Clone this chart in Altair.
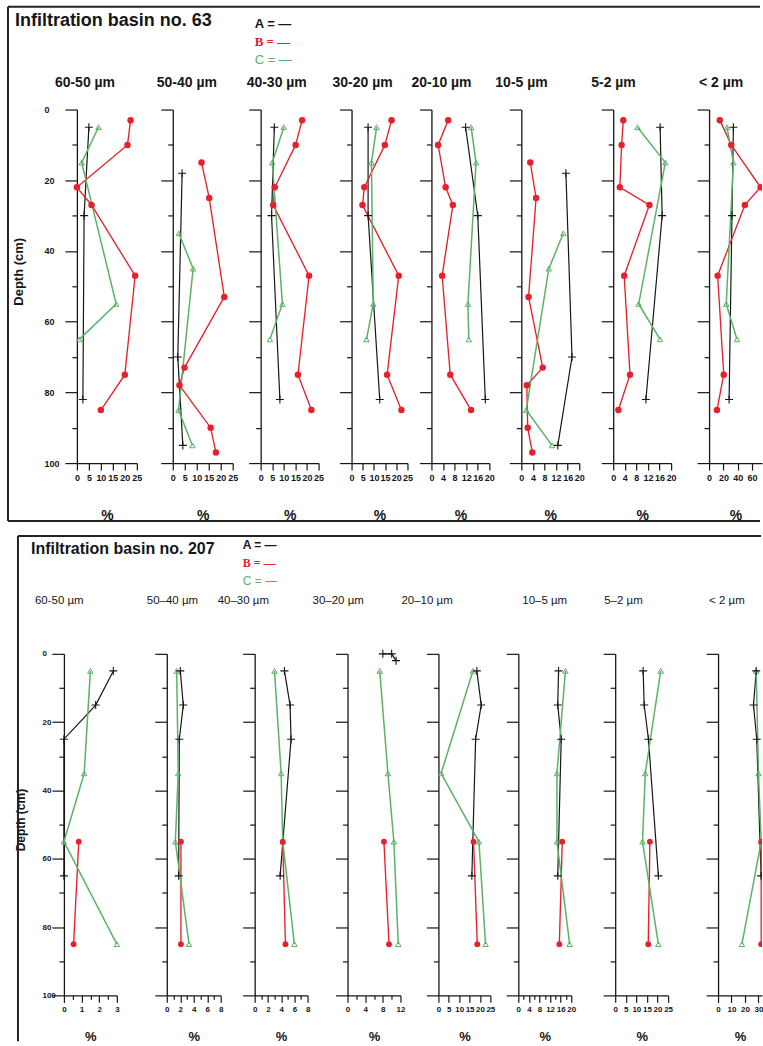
import altair as alt
import pandas as pd

BLACK = "#161616"
RED = "#e8202a"
GREEN = "#5cb266"
FONT = "Liberation Sans"
SERIF = "Liberation Serif"

# ---------------- Infiltration basin no. 63 ----------------
FRAC_63 = ["60-50 µm", "50-40 µm", "40-30 µm", "30-20 µm",
           "20-10 µm", "10-5 µm", "5-2 µm", "< 2 µm"]
# depths (cm) of the samples; panels "50-40" and "10-5" use the second set
D63_A = [5, 30, 82]
D63_A_ALT = [18, 70, 95]
D63_B = [3, 10, 22, 27, 47, 75, 85]
D63_B_ALT = [15, 25, 53, 73, 78, 90, 97]
D63_C = [5, 15, 55, 65]
D63_C_ALT = [35, 45, 85, 95]
ALT_63 = ["50-40 µm", "10-5 µm"]
# percentages, one list per panel
A63 = [[5.0, 3.0, 2.5], [3.9, 2.1, 4.2], [5.9, 4.7, 8.3], [7.4, 7.4, 12.6],
       [11.8, 16.0, 18.6], [15.4, 17.5, 12.6], [16.2, 16.9, 11.3], [34, 32, 28]]
B63 = [[22.4, 21.1, 0.0, 6.1, 24.3, 20.0, 10.0],
       [12.0, 15.2, 21.5, 4.9, 2.8, 15.8, 18.0],
       [17.9, 15.1, 6.1, 5.4, 20.9, 16.1, 21.9],
       [17.9, 14.9, 5.7, 4.9, 21.1, 15.9, 22.3],
       [5.8, 2.3, 4.9, 7.4, 3.7, 6.5, 13.7],
       [3.1, 5.1, 2.5, 7.4, 1.9, 2.2, 3.8],
       [3.5, 2.9, 2.3, 12.5, 3.8, 5.8, 1.8],
       [15, 31, 72, 50, 12, 20.5, 11]]
C63 = [[9.0, 2.0, 16.4, 1.0], [2.5, 8.5, 2.4, 8.2], [10.0, 5.0, 9.4, 4.0],
       [11.2, 8.9, 9.7, 6.7], [13.7, 15.4, 12.6, 12.9], [14.5, 9.5, 1.7, 10.6],
       [8.4, 18.0, 8.8, 16.2], [25, 34, 24, 39]]
XMAX_63 = [25, 25, 25, 25, 20, 20, 20, 74]
TICKS_63 = [[0, 5, 10, 15, 20, 25]] * 4 + [[0, 4, 8, 12, 16, 20]] * 3 + [[0, 20, 40, 60]]
LABELS_63 = TICKS_63

# ---------------- Infiltration basin no. 207 ----------------
FRAC_207 = ["60-50 µm", "50–40 µm", "40–30 µm", "30–20 µm",
            "20–10 µm", "10–5 µm", "5–2 µm", "< 2 µm"]
D207_A = [5, 15, 25, 65]
D207_A_ALT = [0, 0, 2]          # "30–20 µm" panel
D207_B = [55, 85]
D207_C = [5, 35, 55, 85]
A207 = [[2.8, 1.8, 0.0, 0.0], [2.0, 2.45, 1.86, 1.76], [4.5, 5.35, 5.5, 3.85],
        [8.0, 10.0, 11.0], [18.5, 20.6, 17.9, 16.1], [15.2, 14.9, 16.2, 14.9],
        [13.2, 13.7, 15.7, 20.4], [28.3, 26.3, 28.7, 31.9]]
B207 = [[0.84, 0.55], [2.1, 2.1], [4.25, 4.65], [8.25, 9.4], [16.9, 18.7],
        [16.6, 15.5], [16.4, 15.6], [32.0, 32.0]]
C207 = [[1.5, 1.15, 0.0, 3.0], [1.47, 1.7, 1.27, 3.3], [3.0, 4.0, 4.25, 6.0],
        [7.3, 9.15, 10.5, 11.5], [16.6, 1.3, 19.5, 22.7], [17.8, 14.6, 14.6, 19.4],
        [21.5, 14.2, 12.9, 20.4], [28.3, 30.0, 32.0, 17.7]]
XMAX_207 = [3, 8, 8, 12, 25, 20, 25, 32.6]
TICKS_207 = [[0, 0.5, 1, 1.5, 2, 2.5, 3], list(range(0, 9)), list(range(0, 9)),
             list(range(0, 13, 2)), [0, 5, 10, 15, 20, 25], list(range(0, 21, 2)),
             [0, 5, 10, 15, 20, 25], [0, 10, 20, 30]]
LABELS_207 = [[0, 1, 2, 3], [0, 2, 4, 6, 8], [0, 2, 4, 6, 8], [0, 4, 8, 12],
              [0, 5, 10, 15, 20, 25], [0, 4, 8, 12, 16, 20], [0, 5, 10, 15, 20, 25],
              [0, 10, 20, 30]]

# ---------------- layout (pixels) ----------------
XLEN_63 = [60, 60, 58, 56, 58, 58, 58, 53]
W_63 = [96, 88, 91, 80, 90, 92, 96, 53]
TDX_63 = [-22, -16, -14, -19, -20, -26, -22, -10]
XLEN_207 = [53, 54, 53, 53, 52, 53, 53, 44]
W_207 = [103, 88, 93, 91, 80, 97, 103, 44]
TDX_207 = [-29, -20, -37, -35, -37, 4, -11, -9]

CROSS = "M-1,0H1M0,-1V1"


def panel(frac, series, xmax, xlen, ticks, labels, width, height, first, top, clip, tdx):
    rows = []
    for name, (depths, vals) in series.items():
        for i, (d, v) in enumerate(zip(depths, vals)):
            rows.append({"series": name, "depth": d, "value": v, "idx": i})
    df = pd.DataFrame(rows)
    lab_expr = "indexof(%s, datum.value) >= 0 ? datum.label : ''" % str(labels)
    xaxis = alt.Axis(
        values=ticks, labelExpr=lab_expr, title="%", format="~f",
        tickSize={"condition": {"test": "indexof(%s, datum.value) >= 0" % str(labels),
                                "value": 7}, "value": 4},
        labelFontSize=9 if top else 8, labelPadding=3,
        titleX=xlen / 2, titleY=56 if top else 45, titleBaseline="alphabetic",
        titleFontSize=14 if top else 13, titleFontWeight="bold",
    )
    yaxis = alt.Axis(
        values=list(range(0, 101, 10)),
        tickSize={"condition": {"test": "datum.value % 20 === 0", "value": 12}, "value": 5},
        labels=first,
        labelExpr="datum.value % 20 === 0 ? datum.label : ''",
        labelAlign="left", labelPadding=21 if top else 10,
        labelFontSize=9 if top else 8,
        title="Depth (cm)" if first else None,
        titleX=-58 if top else -43, titleY=162 if top else 166,
        titleAngle=270, titleBaseline="middle", titleAlign="center",
        titleFontSize=13 if top else 12, titleFontWeight="bold",
    )
    base = alt.Chart(df).encode(
        x=alt.X("value:Q", scale=alt.Scale(domain=[0, xmax], range=[0, xlen], nice=False, zero=False), axis=xaxis),
        y=alt.Y("depth:Q", scale=alt.Scale(domain=[0, 100], reverse=True, nice=False, zero=False), axis=yaxis),
    )
    lines = base.mark_line(clip=clip).encode(
        color=alt.Color("series:N", scale=alt.Scale(domain=["A", "B", "C"], range=[BLACK, RED, GREEN]), legend=None),
        strokeWidth=alt.StrokeWidth("series:N", scale=alt.Scale(domain=["A", "B", "C"], range=[1.2, 1.5, 1.0]), legend=None),
        order="idx:Q",
    )
    pa = base.transform_filter("datum.series === 'A'").mark_point(
        shape=CROSS, filled=False, size=64, color=BLACK, strokeWidth=1.1, opacity=1, clip=clip)
    pb = base.transform_filter("datum.series === 'B'").mark_circle(
        size=42 if top else 34, color=RED, opacity=1, clip=clip)
    pc = base.transform_filter("datum.series === 'C'").mark_point(
        shape="triangle-up", filled=False, size=30, color=GREEN, strokeWidth=1, opacity=1, clip=clip)
    title = alt.Chart(pd.DataFrame({"t": [frac]})).mark_text(
        align="left", baseline="alphabetic", font=FONT,
        fontSize=14 if top else 11.5, fontWeight="bold" if top else "normal", color=BLACK,
    ).encode(x=alt.value(tdx), y=alt.value(-23 if top else -50), text="t:N")
    return alt.layer(lines, pc, pb, pa, title).properties(width=width, height=height)


def deco(box, title_xy, title, title_size, legend_xy, legend_size, legend_dy):
    one = pd.DataFrame({"k": [0]})
    x1, y1, x2, y2 = box
    layers = [
        alt.Chart(one).mark_rule(color="#222", strokeWidth=2).encode(
            x=alt.value(x1), x2=alt.value(x2), y=alt.value(y1)),
        alt.Chart(one).mark_rule(color="#222", strokeWidth=2).encode(
            x=alt.value(x1), y=alt.value(y1), y2=alt.value(y2)),
        alt.Chart(pd.DataFrame({"t": [title]})).mark_text(
            align="left", baseline="alphabetic", font=FONT, fontSize=title_size,
            fontWeight="bold", color=BLACK).encode(
            x=alt.value(title_xy[0]), y=alt.value(title_xy[1]), text="t:N"),
    ]
    leg = [("A = —", FONT, BLACK, "bold"), ("B = —", SERIF, RED, "bold"), ("C = —", FONT, GREEN, "normal")]
    for i, (txt, fnt, col, wt) in enumerate(leg):
        layers.append(alt.Chart(pd.DataFrame({"t": [txt]})).mark_text(
            align="left", baseline="alphabetic", font=fnt, fontSize=legend_size,
            fontWeight=wt, color=col).encode(
            x=alt.value(legend_xy[0]), y=alt.value(legend_xy[1] + i * legend_dy), text="t:N"))
    return layers


def series63(i):
    alt_set = FRAC_63[i] in ALT_63
    return {
        "A": (D63_A_ALT if alt_set else D63_A, A63[i]),
        "B": (D63_B_ALT if alt_set else D63_B, B63[i]),
        "C": (D63_C_ALT if alt_set else D63_C, C63[i]),
    }


def series207(i):
    return {
        "A": (D207_A_ALT if i == 3 else D207_A, A207[i]),
        "B": (D207_B, B207[i]),
        "C": (D207_C, C207[i]),
    }


H63, H207 = 354, 342

panels63 = []
for i in range(8):
    p = panel(FRAC_63[i], series63(i), XMAX_63[i], XLEN_63[i], TICKS_63[i], LABELS_63[i],
              W_63[i], H63, i == 0, True, i == 7, TDX_63[i])
    if i == 0:
        bottom = alt.Chart(pd.DataFrame({"k": [0]})).mark_rule(color="#222", strokeWidth=2).encode(
            x=alt.value(-69), x2=alt.value(684), y=alt.value(412))
        p = alt.layer(*p.layer, *deco((-69, -103, 684, 412), (-62, -84),
                                      "Infiltration basin no. 63", 18, (178, -82), 13, 18),
                      bottom).properties(width=W_63[0], height=H63)
    panels63.append(p)

spacer = alt.Chart(pd.DataFrame({"k": [0]})).mark_point(opacity=0).encode(
    x=alt.value(0), y=alt.value(0)).properties(width=13, height=H63)

panels207 = []
for i in range(8):
    p = panel(FRAC_207[i], series207(i), XMAX_207[i], XLEN_207[i], TICKS_207[i], LABELS_207[i],
              W_207[i], H207, i == 0, False, i == 7, TDX_207[i])
    if i == 0:
        p = alt.layer(*p.layer, *deco((-46, -118, 698, 388), (-33, -100),
                                      "Infiltration basin no. 207", 16, (179, -105), 12, 18)
                      ).properties(width=W_207[0], height=H207)
    panels207.append(p)

row63 = alt.hconcat(spacer, *panels63, spacing=0, bounds="flush")
row207 = alt.hconcat(*panels207, spacing=0, bounds="flush")

chart = alt.vconcat(row63, row207, spacing=13).properties(
    padding={"left": 7, "top": 5, "right": 0, "bottom": 0},
    background="white",
).configure_view(stroke=None).configure_axis(
    grid=False, domainColor=BLACK, domainWidth=1.3, tickColor=BLACK, tickWidth=1.2,
    labelFont=FONT, labelFontWeight="bold", labelColor=BLACK, titleFont=FONT, titleColor=BLACK,
    labelOverlap=False, labelFlush=False,
)

chart.save("out.html", embed_options={"renderer": "svg", "actions": False})
